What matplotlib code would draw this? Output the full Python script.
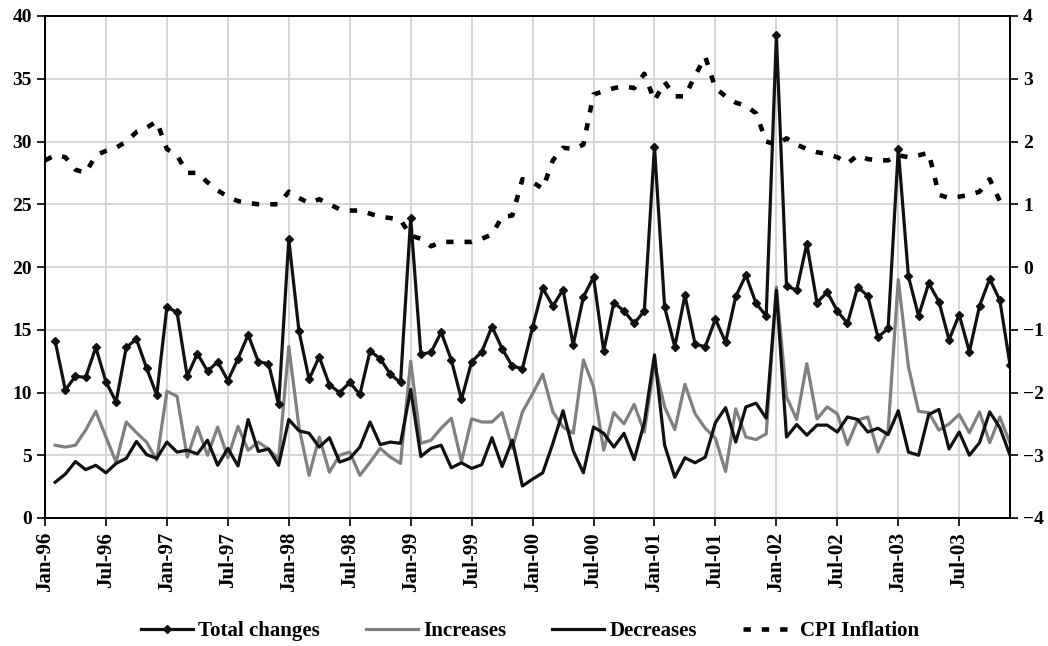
import matplotlib
matplotlib.use("Agg")
import matplotlib.pyplot as plt
import numpy as np

# ---- data ----
tick_labels = ["Jan-96", "Jul-96", "Jan-97", "Jul-97", "Jan-98", "Jul-98", "Jan-99", "Jul-99",
               "Jan-00", "Jul-00", "Jan-01", "Jul-01", "Jan-02", "Jul-02", "Jan-03", "Jul-03"]

# monthly series Feb-96 .. Dec-03
total_changes = [14.1, 10.2, 11.3, 11.2, 13.6, 10.85, 9.25, 13.6, 14.25, 11.95, 9.8,
                 16.8, 16.4, 11.3, 13.1, 11.7, 12.45, 10.95, 12.7, 14.6, 12.45, 12.3, 9.05,
                 22.2, 14.9, 11.05, 12.85, 10.6, 10.0, 10.8, 9.85, 13.3, 12.7, 11.45, 10.8,
                 23.9, 13.05, 13.2, 14.8, 12.6, 9.45, 12.45, 13.25, 15.25, 13.5, 12.1, 11.9,
                 15.2, 18.3, 16.9, 18.2, 13.8, 17.6, 19.2, 13.3, 17.15, 16.5, 15.5, 16.5,
                 29.6, 16.8, 13.65, 17.75, 13.85, 13.65, 15.85, 14.0, 17.65, 19.35, 17.1, 16.1,
                 38.45, 18.5, 18.15, 21.85, 17.15, 18.0, 16.5, 15.5, 18.4, 17.7, 14.4, 15.1,
                 29.4, 19.25, 16.1, 18.7, 17.25, 14.2, 16.2, 13.25, 16.9, 19.05, 17.35, 12.2]

increases = [5.8, 5.65, 5.8, 7.0, 8.5, 6.45, 4.45, 7.65, 6.8, 6.05, 4.6,
             10.1, 9.7, 4.85, 7.25, 5.0, 7.25, 4.8, 7.3, 5.4, 6.05, 5.5, 4.7,
             13.65, 7.25, 3.4, 6.45, 3.65, 5.0, 5.25, 3.4, 4.45, 5.55, 4.85, 4.35,
             12.5, 5.95, 6.2, 7.15, 7.95, 4.5, 7.9, 7.65, 7.65, 8.4, 5.55, 8.45,
             9.9, 11.45, 8.45, 7.25, 6.75, 12.6, 10.45, 5.4, 8.4, 7.5, 9.05, 6.85,
             12.3, 8.85, 7.05, 10.65, 8.3, 7.15, 6.35, 3.7, 8.7, 6.45, 6.25, 6.7,
             18.4, 9.65, 7.85, 12.3, 7.9, 8.85, 8.3, 5.85, 7.8, 8.05, 5.25, 7.0,
             19.0, 12.05, 8.5, 8.4, 7.0, 7.5, 8.25, 6.8, 8.45, 6.0, 8.05, 5.95]

decreases = [2.85, 3.5, 4.5, 3.85, 4.2, 3.6, 4.35, 4.75, 6.1, 5.05, 4.75,
             6.05, 5.25, 5.4, 5.1, 6.2, 4.2, 5.55, 4.15, 7.85, 5.3, 5.5, 4.2,
             7.85, 6.95, 6.75, 5.65, 6.4, 4.45, 4.75, 5.65, 7.65, 5.85, 6.05, 5.95,
             10.25, 4.9, 5.55, 5.8, 4.0, 4.4, 3.95, 4.25, 6.4, 4.1, 6.2, 2.55,
             3.1, 3.6, 5.95, 8.55, 5.35, 3.6, 7.25, 6.75, 5.65, 6.75, 4.65, 7.6,
             13.0, 5.8, 3.25, 4.8, 4.4, 4.85, 7.6, 8.8, 6.05, 8.85, 9.15, 7.95,
             18.15, 6.45, 7.45, 6.6, 7.4, 7.4, 6.85, 8.05, 7.85, 6.85, 7.15, 6.65,
             8.55, 5.25, 5.0, 8.25, 8.65, 5.5, 6.85, 5.0, 6.0, 8.45, 7.2, 5.0]

# monthly CPI inflation Jan-96 .. Dec-03 (right axis)
cpi_inflation = [1.7, 1.78, 1.75, 1.55, 1.5, 1.78, 1.85, 1.9, 2.0, 2.15, 2.22, 2.32,
                 1.88, 1.78, 1.5, 1.5, 1.35, 1.22, 1.12, 1.05, 1.02, 1.0, 1.0, 1.0,
                 1.2, 1.1, 1.02, 1.08, 1.0, 0.92, 0.9, 0.9, 0.85, 0.8, 0.78, 0.75,
                 0.5, 0.45, 0.33, 0.4, 0.4, 0.4, 0.4, 0.45, 0.52, 0.8, 0.82, 1.4,
                 1.35, 1.25, 1.7, 1.9, 1.88, 1.95, 2.75, 2.8, 2.85, 2.88, 2.85, 3.08,
                 2.65, 2.95, 2.72, 2.72, 3.05, 3.35, 2.85, 2.72, 2.62, 2.57, 2.45, 2.0,
                 1.95, 2.05, 1.95, 1.88, 1.83, 1.8, 1.75, 1.65, 1.78, 1.72, 1.7, 1.7,
                 1.78, 1.75, 1.78, 1.82, 1.15, 1.1, 1.12, 1.15, 1.2, 1.4, 1.05, 1.0]

# ---- plot ----
plt.rcParams['font.family'] = ['Liberation Serif', 'DejaVu Serif']
plt.rcParams['font.weight'] = 'bold'
FS = 14

fig = plt.figure(figsize=(10.48, 6.46), dpi=100)
ax = fig.add_axes([45/1048, 1 - 518/646, 965/1048, 502/646])
ax2 = ax.twinx()

n_cpi = len(cpi_inflation)
x_cpi = np.arange(n_cpi)
x_chg = np.arange(1, 1 + len(total_changes))

l1, = ax.plot(x_chg, total_changes, color='#111111', lw=2.3, marker='D', ms=4,
              label='Total changes', zorder=5)
l2, = ax.plot(x_chg, increases, color='#808080', lw=2.3, label='Increases', zorder=3)
l3, = ax.plot(x_chg, decreases, color='#111111', lw=2.3, label='Decreases', zorder=4)
l4, = ax2.plot(x_cpi, cpi_inflation, color='black', lw=3.3,
               linestyle=(0, (1.6, 2.4)), dash_capstyle='butt', label='CPI Inflation')

ax.set_xlim(0, n_cpi - 1)
ax.set_ylim(0, 40)
ax.set_yticks(np.arange(0, 41, 5))
ax2.set_ylim(-4, 4)
ax2.set_yticks(np.arange(-4, 5, 1))

xt = np.arange(0, 6 * len(tick_labels), 6)
ax.set_xticks(xt)
ax.set_xticklabels(tick_labels, rotation=90, fontsize=FS + 1, fontweight='bold')
ax.tick_params(axis='y', labelsize=FS, direction='out', length=6, width=1.2)
ax.tick_params(axis='x', direction='out', length=6, width=1.2, pad=4)
ax2.tick_params(axis='y', labelsize=FS, direction='out', length=6, width=1.2)
for lab in ax.get_yticklabels() + ax2.get_yticklabels():
    lab.set_fontweight('bold')

ax.grid(True, color='#d0d0d0', lw=1.2)
ax.set_axisbelow(True)
for sp in list(ax.spines.values()) + list(ax2.spines.values()):
    sp.set_color('black')
    sp.set_linewidth(1.3)

fig.legend(handles=[l1, l2, l3, l4], loc='center', bbox_to_anchor=(0.506, 1 - 631/646),
           ncol=4, frameon=False, handlelength=2.5, columnspacing=2.2,
           handletextpad=0.25, prop={'weight': 'bold', 'size': FS + 1})

fig.savefig('out.png', dpi=100)
